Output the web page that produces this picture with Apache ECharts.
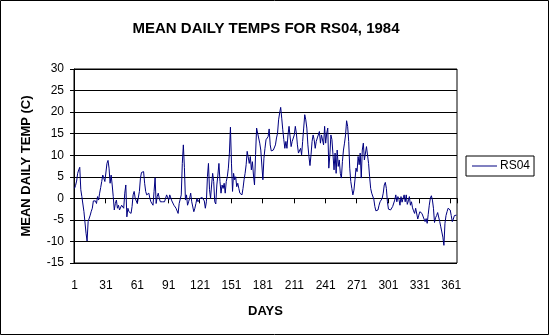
<!DOCTYPE html>
<html><head><meta charset="utf-8">
<script src="https://cdn.jsdelivr.net/npm/echarts@6/dist/echarts.min.js"></script>
<style>html,body{margin:0;padding:0;background:#fff}#c{width:550px;height:336px}</style>
</head><body><div id="c"></div>
<script>
var titleText = 'MEAN DAILY TEMPS FOR RS04, 1984';
var xName = 'DAYS';
var yName = 'MEAN DAILY TEMP (C)';
var seriesName = 'RS04';
var yTicks = [-15, -10, -5, 0, 5, 10, 15, 20, 25, 30];
var temps1 = [2.3,3.0,4.0,5.8,6.6,7.2,2.0,0.4,0.0,-3.1,-2.7,-8.1,-9.9,-5.4,-5.0,-3.9,-3.0,-2.3,-0.6,-0.6,
-0.6,-1.2,0.4,-0.4,1.2,2.5,3.9,5.4,5.0,3.9,3.9,8.1,8.8,7.0,3.5,5.4,3.1,0.4,-2.7,-1.2,
-0.4,-2.3,-1.6,-2.7,-2.3,-1.6,-2.0,-2.3,1.2,3.1,-4.3,-2.3,-3.1,-2.7,-3.5,-1.9,0.8,1.6,0.0,-0.4,
-1.2,-1.6,1.6,4.7,6.0,5.6,6.2,3.5,1.6,0.8,0.4,1.2,0.0,-0.8,-0.8,-1.6,1.6,4.8,-1.2,0.4,
1.2,0.0,-0.8,-0.8,-0.8,-0.4,-0.8,0.0,0.8,0.4,-0.4,0.8,0.4,-0.6,-0.8,-1.6,-1.2,-2.3,-2.3,-3.5,
-1.2,-1.2,0.8,8.1,12.4,7.2,-0.4,0.8,-1.6,-0.8,0.0,1.2,-0.8,-1.2,-3.1,-2.3,-1.2,0.0,-0.8,-0.4,
0.0,0.4];
var temps2 = [0.2,-0.2,-0.6,-2.3,-0.8,5.0,8.1,2.0,0.0,3.1,5.8,3.9,-0.8,-1.3,3.1,5.4,8.1,3.9,
1.2,3.1,2.3,3.5,1.2,3.9,5.0,7.0,10.5,16.5,8.0,1.6,5.8,4.3,5.0,2.7,3.5,2.3,1.2,1.6,
0.8,2.3,4.3,5.8,7.8,10.9,11.2,8.1,9.7,6.6,8.5,5.4,3.1,10.1,16.3,15.1,15.3,12.8,11.2,11.6,
4.3,9.3,11.6,13.6,13.2,14.3,16.1,12.4,11.0,10.9,11.2,11.5,12.4,14.0,15.1,18.2,19.8,21.1,18.6,15.9,
13.6,11.6,13.2,11.6,14.7,16.7,17.1,12.0,13.2,13.6,14.7,16.7,15.1,12.4,10.5,10.9,11.6,10.1,13.2,16.3,
19.4,18.2,16.3,12.4,9.7,7.6,10.1,13.2,14.7,13.6,11.6,13.2,14.0,14.3,15.5,12.8,14.7,14.3,12.4,16.7,
12.8,15.1,16.3,7.0,10.0];
var temps3 = [14.7,13.6,10.1,6.6,10.5,5.8,11.2,7.4,8.9,5.8,4.7,8.5,11.2,12.8,14.7,18.0,16.7,13.2,7.0,3.9,
2.3,0.8,1.9,4.3,7.0,6.2,9.7,7.8,10.5,4.7,11.2,12.8,8.9,8.5,12.0,11.6,8.1,5.0,2.3,1.2,
0.8,-0.2,-1.9,-2.9,-2.7,-2.7,-1.6,-0.8,-0.4,0.0,1.2,3.1,3.7,2.3,-0.8,-2.5,-2.5,-2.7,-2.3,-1.9,
-1.6,-0.4,0.8,-0.8,0.4,-0.2,-1.6,0.4,-0.9,0.0,0.8,-0.8,0.8,-1.4,-0.6,0.4,-1.6,-0.8,-2.2,-2.9,
-3.5,-2.3,-2.7,-4.8,-3.9,-3.1,-2.7,-3.5,-3.1,-4.8,-5.4,-4.7,-5.8,-3.7,-1.6,0.0,0.6,-0.4,-2.3,-5.6,
-4.5,-4.0,-3.3,-3.5,-5.4,-6.6,-7.8,-9.0,-10.9,-5.8,-4.0,-3.1,-2.3,-2.3,-2.7,-4.0,-5.4,-4.8,-4.0,-3.7,
-3.9];
var temps = temps1.concat(temps2, temps3);
var days = [];
for (var i = 1; i <= temps.length; i++) days.push(String(i));

var FONT = '"Liberation Sans", Arial, sans-serif';
var chart = echarts.init(document.getElementById('c'), null, {renderer: 'canvas'});
chart.setOption({
  animation: false,
  backgroundColor: '#ffffff',
  title: {
    text: titleText, left: 261, top: 16, textAlign: 'center',
    textStyle: {fontFamily: FONT, fontSize: 15, fontWeight: 'bold', color: '#000'}
  },
  grid: {left: 74, right: 93, top: 69, bottom: 73, show: true, borderColor: '#000', borderWidth: 1, backgroundColor: 'transparent'},
  legend: {
    left: 466, top: 156, orient: 'vertical',
    data: [seriesName],
    icon: 'rect', itemWidth: 25, itemHeight: 1,
    borderColor: '#000', borderWidth: 1, padding: [4, 4, 4, 6],
    textStyle: {fontFamily: FONT, fontSize: 12, color: '#000', padding: [0, 0, 0, -2]},
    itemStyle: {color: '#000080'}
  },
  xAxis: {
    type: 'category', data: days, boundaryGap: true,
    name: xName, nameLocation: 'middle', nameGap: 42,
    nameTextStyle: {fontFamily: FONT, fontSize: 13, fontWeight: 'bold', color: '#000'},
    axisLine: {lineStyle: {color: '#000', width: 1}},
    axisTick: {show: true, interval: 29, length: 5, lineStyle: {color: '#000'}},
    axisLabel: {interval: 29, fontFamily: FONT, fontSize: 12, color: '#000', margin: 17},
    splitLine: {show: false}
  },
  yAxis: {
    type: 'value', min: -15, max: 30, interval: 5,
    name: yName, nameLocation: 'middle', nameGap: 41, nameRotate: 90,
    nameTextStyle: {fontFamily: FONT, fontSize: 13, fontWeight: 'bold', color: '#000'},
    axisLine: {show: true, lineStyle: {color: '#000', width: 1}},
    axisTick: {show: true, length: 4, lineStyle: {color: '#000'}},
    axisLabel: {fontFamily: FONT, fontSize: 12, color: '#000', margin: 10},
    splitLine: {show: true, lineStyle: {color: '#000', width: 1}}
  },
  series: [{
    name: seriesName, type: 'line', data: temps,
    symbol: 'none', showSymbol: false,
    lineStyle: {color: '#000080', width: 1},
    itemStyle: {color: '#000080'}
  }],
  graphic: [{
    type: 'rect', shape: {x: 0.5, y: 0.5, width: 548, height: 334},
    style: {fill: 'none', stroke: '#000', lineWidth: 1}, silent: true, z: 100
  }]
});
</script></body></html>
